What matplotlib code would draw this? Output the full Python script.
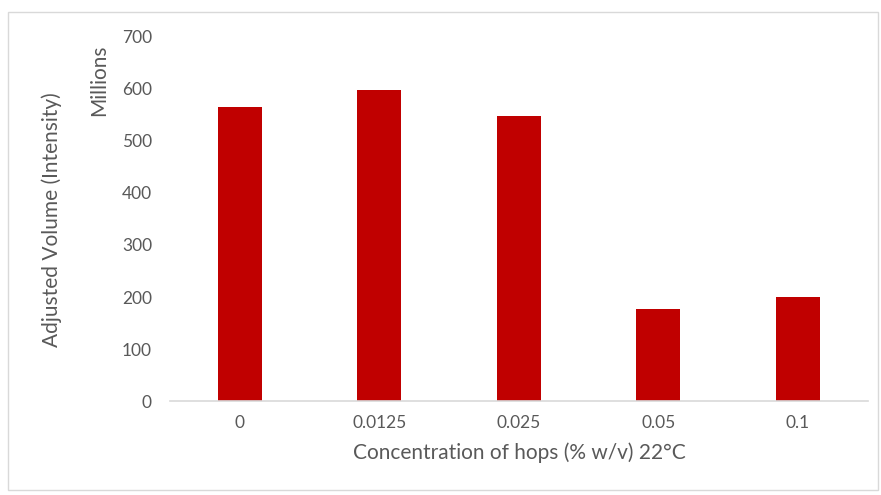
import numpy as np
import matplotlib.pyplot as plt
from matplotlib.patches import Rectangle

# Concentracion de lupulo (% w/v) a 22 C y volumen ajustado (millones)
concentraciones = ["0", "0.0125", "0.025", "0.05", "0.1"]
volumen_millones = [565, 597, 547, 177, 201]

color_barra = "#c00000"
gris_texto = "#595959"
gris_eje = "#d9d9d9"

plt.rcParams['font.family'] = ['Lato', 'DejaVu Sans']

fig = plt.figure(figsize=(8.81, 4.95), dpi=100)
# marco exterior del grafico
fig.patches.append(Rectangle((0.009, 0.01), 0.988, 0.965, transform=fig.transFigure,
                             fill=False, edgecolor=gris_eje, linewidth=1.0))

ax = fig.add_axes([0.193, 0.189, 0.792, 0.738])
x = np.arange(len(concentraciones))
ax.bar(x, volumen_millones, width=0.315, color=color_barra)

ax.set_xlim(-0.5, len(concentraciones) - 0.5)
ax.set_ylim(0, 700)
ax.set_yticks(np.arange(0, 701, 100))
ax.set_xticks(x)
ax.set_xticklabels(concentraciones)

for s in ["top", "right", "left"]:
    ax.spines[s].set_visible(False)
ax.spines["bottom"].set_color(gris_eje)
ax.spines["bottom"].set_linewidth(1.2)

ax.tick_params(axis="both", length=0, labelsize=12.5, labelcolor=gris_texto)
ax.tick_params(axis="y", pad=13)
ax.tick_params(axis="x", pad=10)

ax.set_xlabel("Concentration of hops (% w/v) 22°C", fontsize=15, color=gris_texto, labelpad=8)
fig.text(0.059, 0.556, "Adjusted Volume (Intensity)", rotation=90, fontsize=15,
         color=gris_texto, ha="center", va="center")
fig.text(0.112, 0.838, "Millions", rotation=90, fontsize=15,
         color=gris_texto, ha="center", va="center")

fig.savefig("out.png", dpi=100)
